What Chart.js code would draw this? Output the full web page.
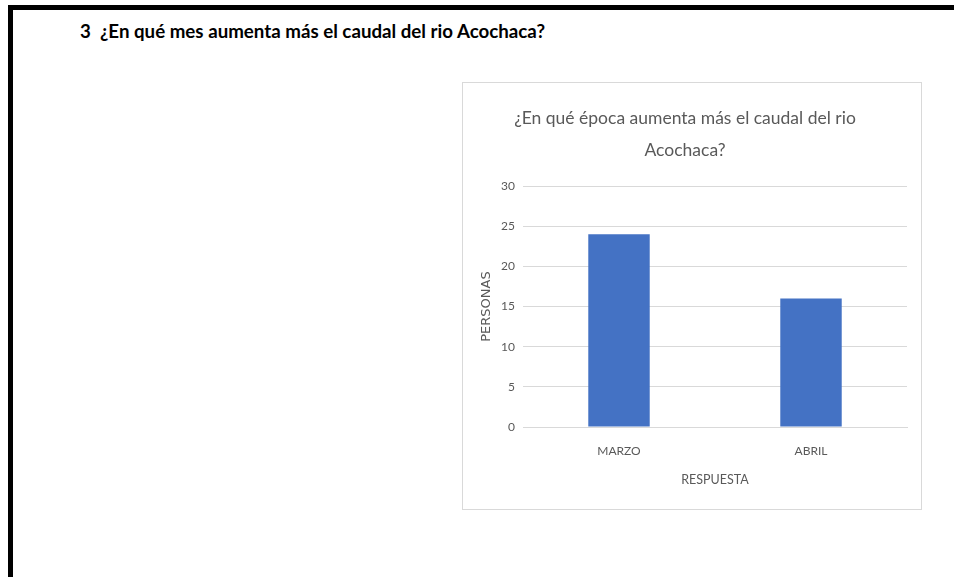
<!DOCTYPE html>
<html lang="es">
<head>
<meta charset="utf-8">
<script src="https://cdn.jsdelivr.net/npm/chart.js@4"></script>
<style>
  html, body { margin: 0; padding: 0; background: #fff; width: 954px; height: 577px; overflow: hidden; }
  .frame { position: absolute; left: 8px; top: 5px; width: 960px; height: 600px;
           border-left: 5px solid #000; border-top: 5px solid #000; }
  h1 { position: absolute; left: 80px; top: 20px; margin: 0; white-space: nowrap;
       font: bold 18px Lato, sans-serif; color: #000; transform-origin: 0 0; }
  .box { position: absolute; left: 462px; top: 82px; width: 458px; height: 426px;
         border: 1px solid #d9d9d9; background: #fff; }
  canvas { display: block; }
</style>
</head>
<body>
<div class="frame"></div>
<h1 id="heading">3&nbsp; ¿En qué mes aumenta más el caudal del rio Acochaca?</h1>
<div class="box"><canvas id="chart" width="458" height="426"></canvas></div>
<script>
const categories = ["MARZO", "ABRIL"];
const personas = [24, 16];
const yTicks = [0, 5, 10, 15, 20, 25, 30];
const chartTitle = ["¿En qué época aumenta más el caudal del rio", "Acochaca?"];
const xTitle = "RESPUESTA";
const yTitle = "PERSONAS";

// the heading is set in a condensed bold face; squeeze Lato to that width
const heading = document.getElementById("heading");
heading.style.transform = "scaleX(" + (465 / heading.getBoundingClientRect().width) + ")";

const FONT = "Lato, sans-serif";
const TEXT = "#595959";

new Chart(document.getElementById("chart"), {
  type: "bar",
  data: {
    labels: categories,
    datasets: [{
      data: personas,
      backgroundColor: "#4472C4",
      borderWidth: 0,
      barPercentage: 0.32,
      categoryPercentage: 1
    }]
  },
  options: {
    responsive: false,
    animation: false,
    layout: { padding: { left: 0, right: 14, top: 0, bottom: 22 } },
    plugins: {
      legend: { display: false },
      tooltip: { enabled: false },
      title: {
        display: true,
        text: chartTitle,
        color: TEXT,
        font: { family: FONT, size: 17.5, weight: "normal", lineHeight: 32 / 17.5 },
        padding: { top: 19, bottom: 20 }
      }
    },
    scales: {
      x: {
        grid: { display: false, drawTicks: false },
        border: { display: true, color: "#d9d9d9", width: 1 },
        ticks: { color: TEXT, font: { family: FONT, size: 12 }, padding: 16.5 },
        title: { display: true, text: xTitle, color: TEXT,
                 font: { family: FONT, size: 12.5 }, padding: { top: 0, bottom: 0 } },
        afterFit: s => { s.height = 60; }
      },
      y: {
        min: 0, max: 30,
        afterBuildTicks: s => { s.ticks = yTicks.map(v => ({ value: v })); },
        grid: { color: "#d9d9d9", drawTicks: false },
        border: { display: false },
        ticks: { color: TEXT, font: { family: FONT, size: 12 }, padding: 8 },
        title: { display: true, text: yTitle, color: TEXT,
                 font: { family: '"DejaVu Sans", sans-serif', size: 13 }, padding: { top: 16, bottom: 0 } },
        afterFit: s => { s.width = 60; }
      }
    }
  }
});
</script>
</body>
</html>
